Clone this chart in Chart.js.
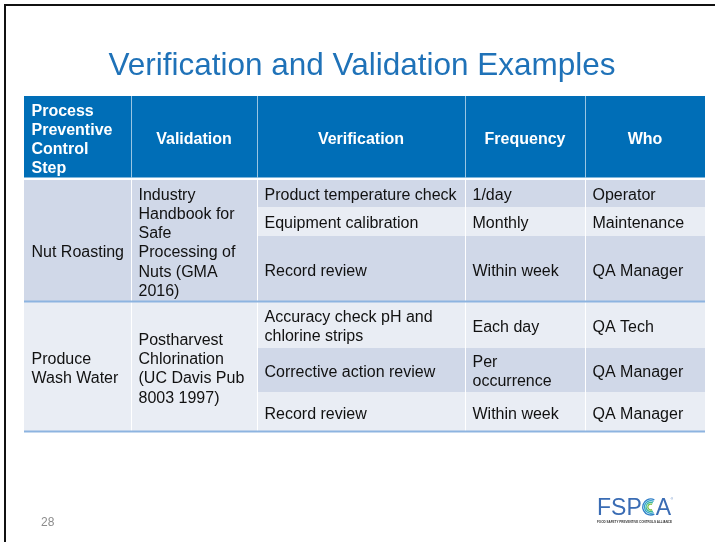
<!DOCTYPE html>
<html><head><meta charset="utf-8">
<script src="https://cdn.jsdelivr.net/npm/chart.js@4/dist/chart.umd.min.js"></script>
<style>html,body{margin:0;padding:0;background:#fff;overflow:hidden}canvas{display:block}</style>
</head><body><canvas id="c" width="715" height="542"></canvas>
<script>
// ---------- data ----------
const title = "Verification and Validation Examples";
const headers = [["Process","Preventive","Control","Step"],["Validation"],["Verification"],["Frequency"],["Who"]];
const steps = [["","Nut Roasting"],["Produce","Wash Water"]];
const validations = [["Industry","Handbook for","Safe","Processing of","Nuts (GMA","2016)"],["Postharvest","Chlorination","(UC Davis Pub","8003 1997)"]];
const verifications = [["Product temperature check"],["Equipment calibration"],["Record review"],["Accuracy check pH and","chlorine strips"],["Corrective action review"],["Record review"]];
const frequencies = [["1/day"],["Monthly"],["Within week"],["Each day"],["Per","occurrence"],["Within week"]];
const whos = [["Operator"],["Maintenance"],["QA Manager"],["QA Tech"],["QA Manager"],["QA Manager"]];
const groupRows = [[0,3],[3,6]];
const pageNumber = "28";

// ---------- layout (scale units) ----------
const colEdges = [0,107,233,441,561,681];
const headerEdges = [0,81.5];
const rowEdges = [84,111,140,206,252,296,336];

const C = {
  header:"#006EB7", dark:"#D0D8E8", light:"#E9EDF4", text:"#111111",
  title:"#1F72B8", groupLine:"#8DB4E0"
};
const FONT = "'Liberation Sans', Arial, sans-serif";

function drawLines(ctx, lines, x, cy, align, lh){
  const cap = 16*0.716;
  const n = lines.length;
  ctx.textAlign = align;
  ctx.textBaseline = "alphabetic";
  lines.forEach((t,i)=>{
    ctx.fillText(t, x, cy + (i-(n-1)/2)*lh + cap/2 + 1);
  });
}

const tablePlugin = {
  id:"table",
  afterDraw(chart){
    const ctx = chart.ctx, xs = chart.scales.x, ys = chart.scales.y;
    const X = v=>xs.getPixelForValue(v), Y = v=>ys.getPixelForValue(v);
    const LH = 19.2, PAD = 7.5;
    ctx.save();
    // frame
    ctx.fillStyle="#111";
    ctx.fillRect(4,4,711,2);
    ctx.fillRect(4,4,2,538);
    // title
    ctx.fillStyle=C.title;
    ctx.font="31.5px "+FONT;
    ctx.textAlign="center"; ctx.textBaseline="alphabetic";
    ctx.fillText(title, 362, 75);
    // header
    const hy0=Y(headerEdges[0]), hy1=Y(headerEdges[1]);
    ctx.fillStyle=C.header;
    ctx.fillRect(X(colEdges[0]), hy0, X(colEdges[5])-X(colEdges[0]), hy1-hy0);
    ctx.strokeStyle="rgba(255,255,255,0.6)"; ctx.lineWidth=1;
    for(let c=1;c<5;c++){ const x=Math.round(X(colEdges[c]))+0.5; ctx.beginPath(); ctx.moveTo(x,hy0); ctx.lineTo(x,hy1); ctx.stroke(); }
    ctx.fillStyle="#fff"; ctx.font="bold 16px "+FONT;
    const hcy=(hy0+hy1)/2+1;
    headers.forEach((h,c)=>{
      if(c===0) drawLines(ctx,h,X(colEdges[0])+PAD,hcy,"left",LH);
      else drawLines(ctx,h,(X(colEdges[c])+X(colEdges[c+1]))/2,hcy,"center",LH);
    });
    // body fills
    const band = r => r%2===0 ? C.dark : C.light;
    for(let r=0;r<6;r++){
      ctx.fillStyle=band(r);
      ctx.fillRect(X(colEdges[2]),Y(rowEdges[r]),X(colEdges[5])-X(colEdges[2]),Y(rowEdges[r+1])-Y(rowEdges[r]));
    }
    groupRows.forEach(([a,b])=>{
      ctx.fillStyle=band(a);
      ctx.fillRect(X(colEdges[0]),Y(rowEdges[a]),X(colEdges[2])-X(colEdges[0]),Y(rowEdges[b])-Y(rowEdges[a]));
    });
    // white grid lines
    ctx.strokeStyle="#fff"; ctx.lineWidth=1;
    for(let c=1;c<5;c++){ const x=Math.round(X(colEdges[c]))+0.5; ctx.beginPath(); ctx.moveTo(x,Y(rowEdges[0])); ctx.lineTo(x,Y(rowEdges[6])); ctx.stroke(); }
    // group lines
    ctx.fillStyle=C.groupLine;
    groupRows.forEach(([a,b])=>{ ctx.fillRect(X(colEdges[0]),Y(rowEdges[b])-1.5,X(colEdges[5])-X(colEdges[0]),2); });
    // body text
    ctx.fillStyle=C.text; ctx.font="16px "+FONT;
    groupRows.forEach(([a,b],g)=>{
      const cy=(Y(rowEdges[a])+Y(rowEdges[b]))/2;
      drawLines(ctx,steps[g],X(colEdges[0])+PAD,cy,"left",LH);
      drawLines(ctx,validations[g],X(colEdges[1])+PAD,cy,"left",LH);
    });
    for(let r=0;r<6;r++){
      const cy=(Y(rowEdges[r])+Y(rowEdges[r+1]))/2;
      drawLines(ctx,verifications[r],X(colEdges[2])+PAD,cy,"left",LH);
      drawLines(ctx,frequencies[r],X(colEdges[3])+PAD,cy,"left",LH);
      drawLines(ctx,whos[r],X(colEdges[4])+PAD,cy,"left",LH);
    }
    // page number
    ctx.fillStyle="#8c8c8c"; ctx.font="12px "+FONT; ctx.textAlign="left";
    ctx.fillText(pageNumber,41,526);
    // logo
    ctx.fillStyle="#3A6CB4"; ctx.font="23px "+FONT; ctx.textAlign="left";
    ctx.fillText("FSP",597,515);
    const w=ctx.measureText("FSP").width;
    const cx=597+w+9, cyl=507;
    const arcs=["#2F7FC8","#2FA3C9","#3DB59A","#7CC04A"];
    arcs.forEach((col,i)=>{ ctx.strokeStyle=col; ctx.lineWidth=1.3; ctx.beginPath(); ctx.arc(cx,cyl,8-i*1.7,Math.PI*0.35,Math.PI*1.65); ctx.stroke(); });
    ctx.fillStyle="#3A6CB4";
    ctx.fillText("A",cx+5,515);
    ctx.font="3px "+FONT; ctx.fillText("®",cx+20,500);
    ctx.fillStyle="#333"; ctx.font="bold 4px "+FONT;
    ctx.fillText("FOOD SAFETY PREVENTIVE CONTROLS ALLIANCE",597,523,75);
    ctx.restore();
  }
};

new Chart(document.getElementById("c"),{
  type:"scatter",
  data:{datasets:[{data:[]}]},
  options:{
    responsive:false, animation:false,
    layout:{padding:{left:24,right:10,top:96,bottom:110}},
    scales:{
      x:{type:"linear",min:0,max:681,display:false},
      y:{type:"linear",min:0,max:336,reverse:true,display:false}
    },
    plugins:{legend:{display:false},tooltip:{enabled:false}}
  },
  plugins:[tablePlugin]
});
</script></body></html>
